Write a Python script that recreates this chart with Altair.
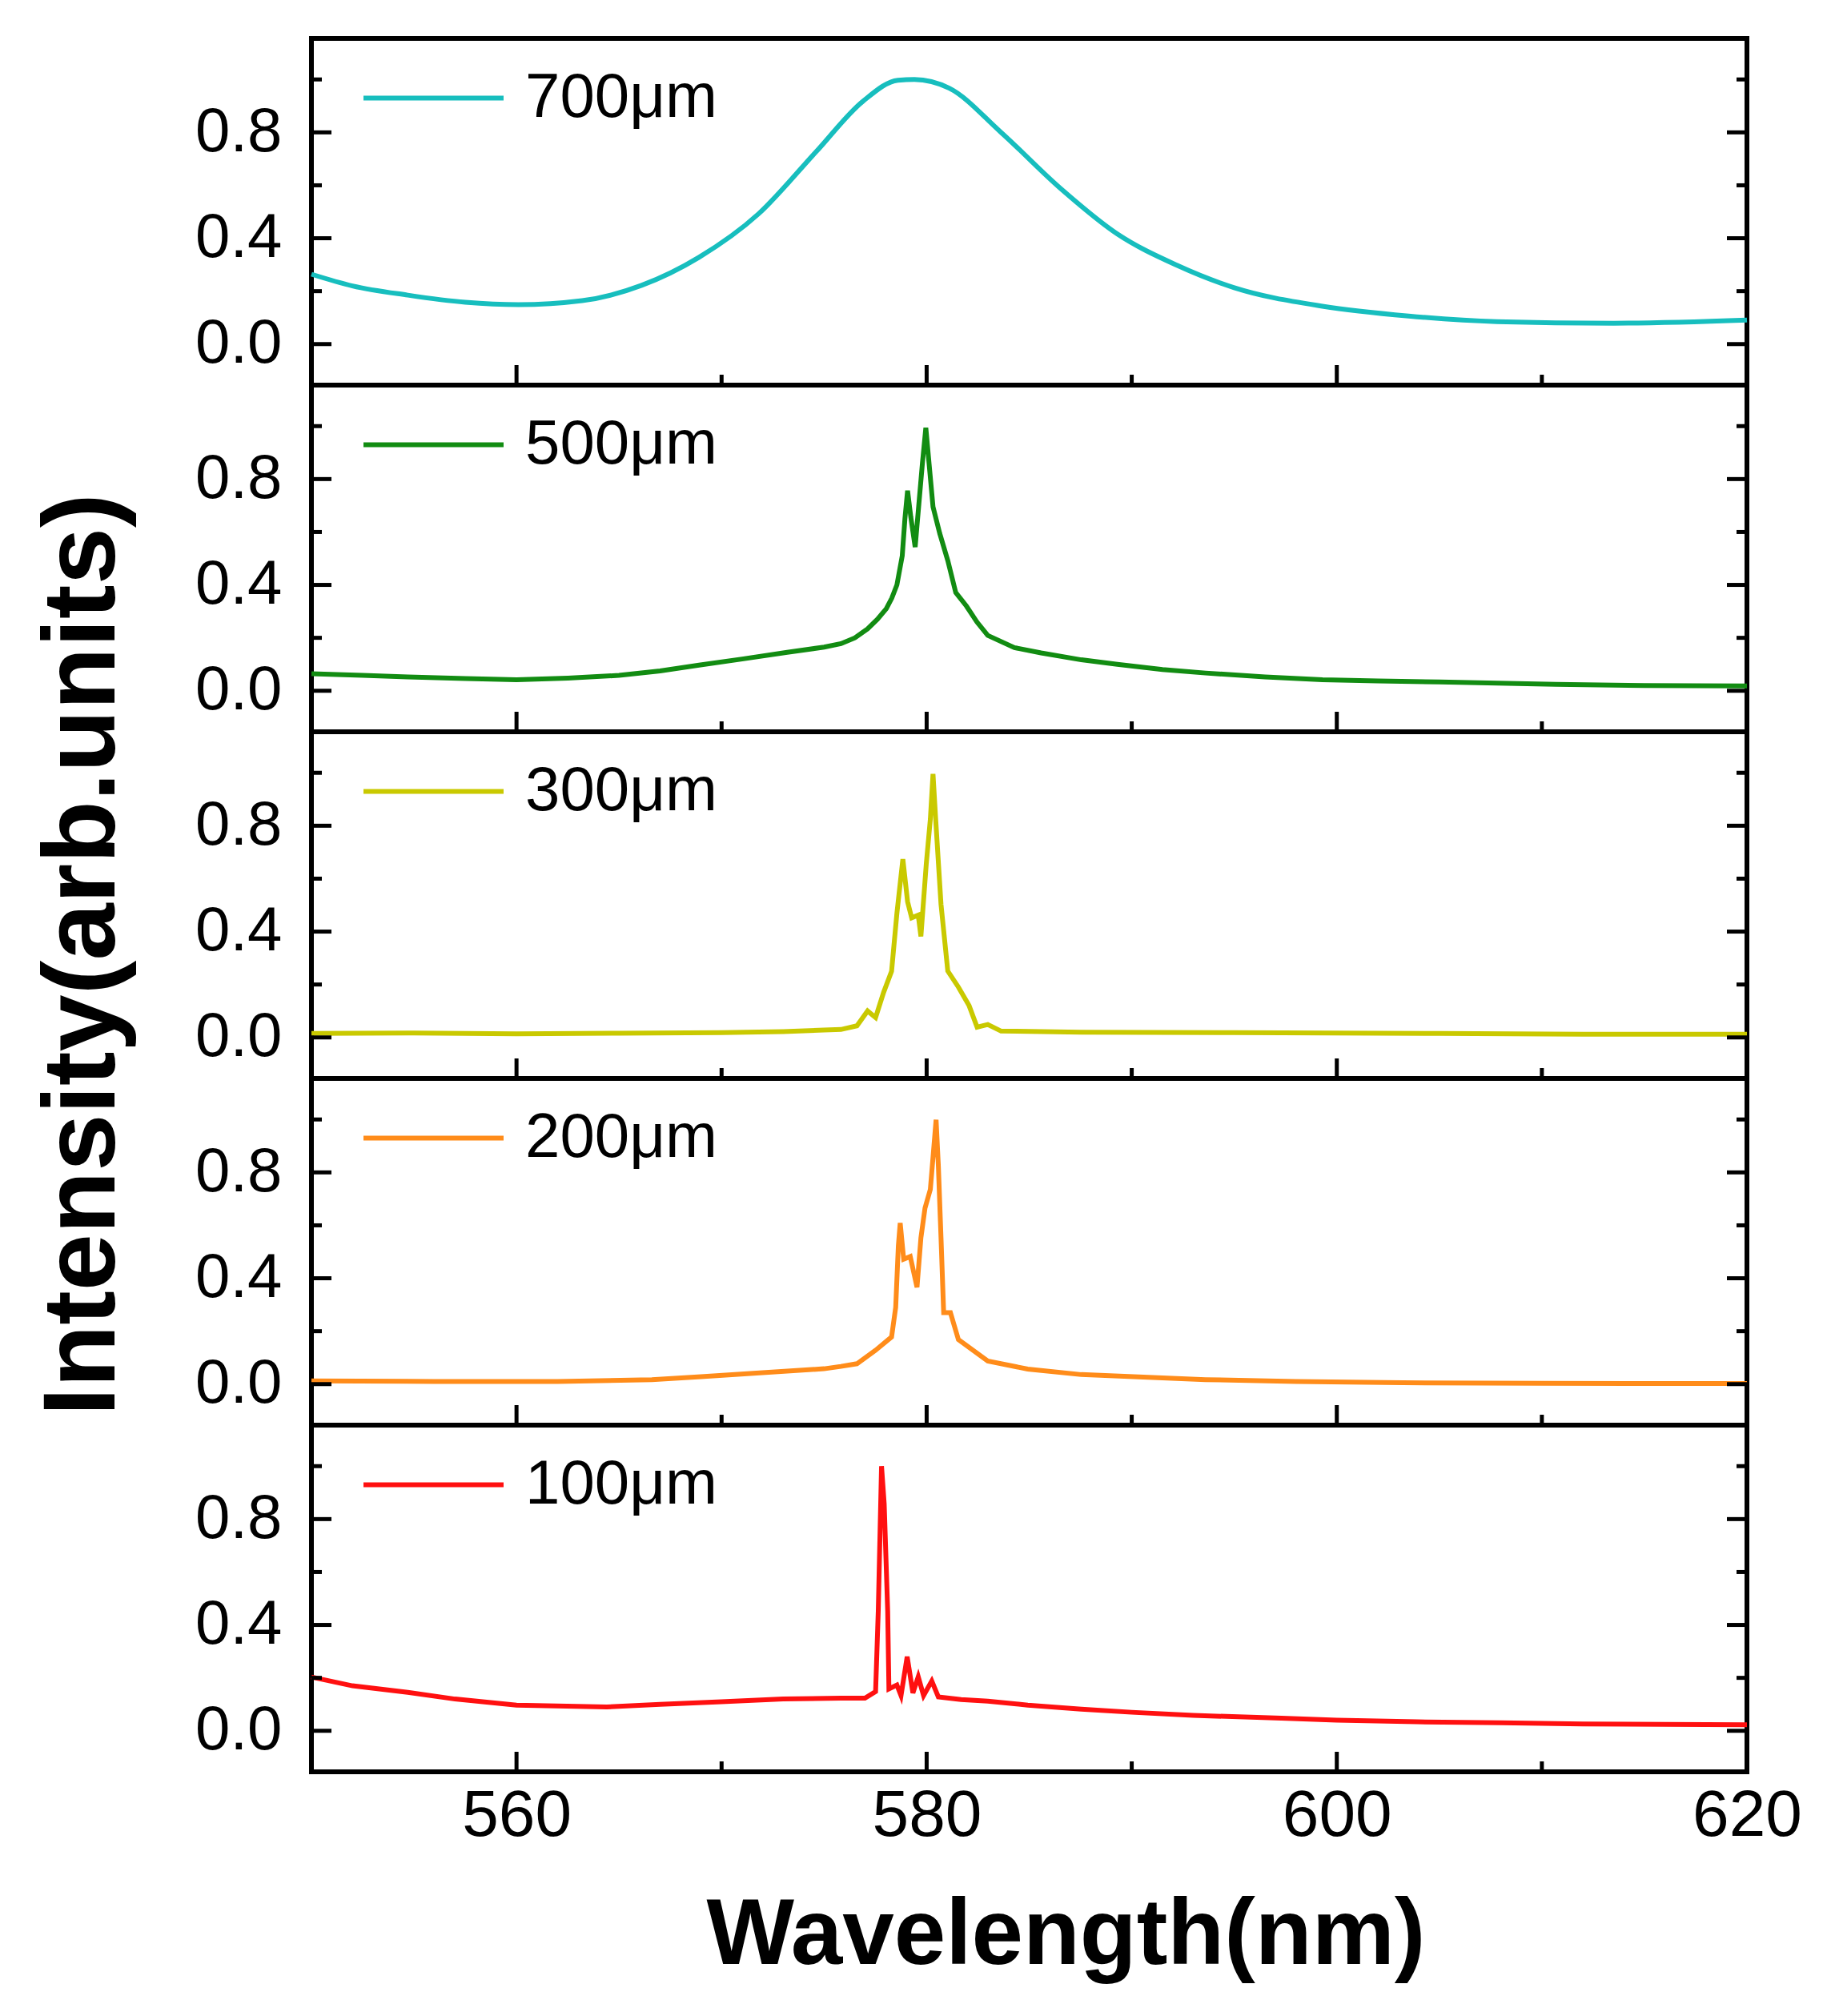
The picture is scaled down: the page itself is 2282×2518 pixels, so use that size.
import altair as alt
import pandas as pd

# ---------------- data ----------------
x_min, x_max = 550, 620
y_min, y_max = -0.155, 1.155
x_label_values = [560, 580, 600, 620]
x_major = [560, 580, 600]
x_minor = [570, 590, 610]
y_major = [0.0, 0.4, 0.8]
y_minor = [0.2, 0.6, 1.0]

labels = ["700\u03bcm", "500\u03bcm", "300\u03bcm", "200\u03bcm", "100\u03bcm"]
colors = ["#17BEBE", "#128C12", "#C9C900", "#FF8C1A", "#FF1010"]

wl_700 = [550, 552, 554.7, 557.5, 560.1, 563.2, 566.1, 568.9, 571.8, 574.6, 576.9,
          578.6, 579.4, 581.1, 583.6, 586.5, 589.3, 592.2, 595.0, 599.3, 603.5,
          607.8, 613.5, 620]
int_700 = [0.264, 0.22, 0.185, 0.158, 0.149, 0.164, 0.222, 0.328, 0.492, 0.726, 0.918,
           0.997, 1.0, 0.967, 0.802, 0.59, 0.416, 0.298, 0.213, 0.143, 0.106,
           0.085, 0.079, 0.091]

wl_500 = [550, 552.5, 554.7, 557.5, 560, 562.5, 565, 567, 568.9, 571, 573.2, 575,
          575.82, 576.5, 577.12, 577.6, 578.03, 578.3, 578.55, 578.81, 578.94, 579.07,
          579.23, 579.44, 579.62, 579.79, 579.96, 580.12, 580.31, 580.64, 581.03,
          581.42, 581.94, 582.45, 582.98, 584.28, 585.58, 587.54, 589.3, 591.5,
          593.6, 596.5, 599.3, 602, 605, 610.7, 615, 620]
int_500 = [0.064, 0.058, 0.052, 0.046, 0.042, 0.048, 0.058, 0.075, 0.097, 0.12, 0.145, 0.165,
           0.178, 0.2, 0.234, 0.27, 0.31, 0.35, 0.40, 0.51, 0.65, 0.756,
           0.655, 0.543, 0.705, 0.857, 0.994, 0.857, 0.695, 0.594, 0.492,
           0.371, 0.32, 0.26, 0.209, 0.163, 0.143, 0.117, 0.1, 0.08,
           0.067, 0.052, 0.042, 0.037, 0.033, 0.024, 0.02, 0.018]

wl_300 = [550, 555, 560, 565, 570, 573, 575, 575.82, 576.6, 577.12, 577.51, 577.9,
          578.29, 578.55, 578.84, 579.07, 579.27, 579.59, 579.72, 579.98, 580.18,
          580.31, 580.44, 580.7, 581.03, 581.55, 582.07, 582.46, 582.98, 583.63,
          587.54, 595, 605, 612, 620]
int_300 = [0.015, 0.017, 0.014, 0.016, 0.018, 0.022, 0.028, 0.03, 0.044, 0.10, 0.075, 0.17,
           0.25, 0.47, 0.674, 0.513, 0.452, 0.462, 0.382, 0.654, 0.825,
           0.996, 0.825, 0.503, 0.251, 0.19, 0.12, 0.039, 0.049, 0.024,
           0.02, 0.018, 0.015, 0.012, 0.012]

wl_200 = [550, 556, 562, 566.6, 569, 571.7, 575, 575.82, 576.6, 577.51, 578.29, 578.49,
          578.62, 578.71, 578.88, 579.2, 579.53, 579.72, 579.92, 580.18, 580.31,
          580.46, 580.57, 580.7, 580.83, 581.16, 581.55, 582.98, 584.93, 587.54,
          593.6, 598, 603.2, 610, 620]
int_200 = [0.012, 0.01, 0.01, 0.017, 0.028, 0.042, 0.058, 0.067, 0.077, 0.128, 0.178, 0.29,
           0.523, 0.609, 0.472, 0.482, 0.366, 0.553, 0.665, 0.736, 0.857,
           0.999, 0.827, 0.553, 0.27, 0.27, 0.168, 0.087, 0.057, 0.036,
           0.017, 0.01, 0.005, 0.003, 0.002]

wl_100 = [550, 552, 554.7, 557, 560, 564.4, 567, 570, 573, 575.82, 576.99, 577.51,
          577.64, 577.8, 577.93, 578.1, 578.16, 578.55, 578.75, 579.05, 579.33,
          579.59, 579.85, 580.25, 580.57, 581.68, 582.98, 584.93, 587.54, 590,
          593, 597.3, 600, 603.9, 608, 612, 616, 620]
int_100 = [0.203, 0.17, 0.145, 0.12, 0.097, 0.09, 0.1, 0.11, 0.12, 0.123, 0.123, 0.148,
           0.452, 1.0, 0.857, 0.452, 0.158, 0.173, 0.133, 0.28, 0.143,
           0.204, 0.133, 0.188, 0.128, 0.118, 0.112, 0.097, 0.082, 0.07,
           0.058, 0.048, 0.04, 0.034, 0.03, 0.026, 0.024, 0.023]

series_wl = [wl_700, wl_500, wl_300, wl_200, wl_100]
series_int = [int_700, int_500, int_300, int_200, int_100]

# ---------------- styling ----------------
W, H = 1793, 433
FONT = "Liberation Sans"
MAJ, MIN = 25, 13
TICK_W = 5

xs = alt.Scale(domain=[x_min, x_max], nice=False, zero=False)
ys = alt.Scale(domain=[y_min, y_max], nice=False, zero=False)

X_TITLE = "Wavelength(nm)"
Y_TITLE = "Intensity(arb.units)"


def x_axis(show):
    if not show:
        return None
    return alt.Axis(values=x_label_values, format="d", ticks=False, domain=False,
                    grid=False, labelFontSize=82, labelPadding=14, labelFlush=False,
                    titleFontSize=116, titleX=942, titleY=239, titleAlign="center",
                    titleBaseline="alphabetic")


def y_axis(with_title):
    kw = dict(values=y_major, format=".1f", ticks=False, domain=False, grid=False,
              labelFontSize=78, labelPadding=37)
    if with_title:
        kw.update(titleFontSize=128, titleX=-247, titleY=278, titleAlign="center",
                  titleBaseline="alphabetic")
    return alt.Axis(**kw)


def panel(i, n):
    show_x = i == n - 1
    with_title = i == 2
    xa = x_axis(show_x)
    ya = y_axis(with_title)
    xt = X_TITLE if show_x else None
    yt = Y_TITLE if with_title else None

    df = pd.DataFrame({"wl": series_wl[i], "I": series_int[i], "s": labels[i]})
    interp = "monotone" if i == 0 else "linear"
    line = alt.Chart(df).mark_line(strokeWidth=6, interpolate=interp).encode(
        x=alt.X("wl:Q", scale=xs, axis=xa, title=xt),
        y=alt.Y("I:Q", scale=ys, axis=ya, title=yt),
        color=alt.Color("s:N", scale=alt.Scale(domain=[labels[i]], range=[colors[i]]),
                        legend=alt.Legend(title=None, orient="none", legendX=62, legendY=-16,
                                          symbolType="stroke", symbolSize=30625,
                                          symbolStrokeWidth=6, labelFontSize=78,
                                          labelOffset=24, labelLimit=600, padding=0)),
    )

    rule = dict(color="black", strokeWidth=TICK_W)
    layers = [line]
    for vals, ln in ((y_major, MAJ), (y_minor, MIN)):
        d = pd.DataFrame({"I": vals})
        layers.append(alt.Chart(d).mark_rule(**rule).encode(
            y=alt.Y("I:Q", scale=ys, axis=ya, title=yt), x=alt.value(0), x2=alt.value(ln)))
        layers.append(alt.Chart(d).mark_rule(**rule).encode(
            y=alt.Y("I:Q", scale=ys, axis=ya, title=yt), x=alt.value(W), x2=alt.value(W - ln)))
    for vals, ln in ((x_major, MAJ), (x_minor, MIN)):
        d = pd.DataFrame({"wl": vals})
        layers.append(alt.Chart(d).mark_rule(**rule).encode(
            x=alt.X("wl:Q", scale=xs, axis=xa, title=xt), y=alt.value(H), y2=alt.value(H - ln)))
    return alt.layer(*layers).properties(width=W, height=H)


n = len(labels)
panels = [panel(i, n) for i in range(n)]

chart = alt.vconcat(*panels, spacing=0, bounds="flush").resolve_scale(
    color="independent").resolve_legend(color="independent").configure_view(
    stroke="black", strokeWidth=6).configure_axis(
    labelFont=FONT, labelColor="black", titleFont=FONT, titleColor="black",
    titleFontWeight="bold").configure_legend(
    labelFont=FONT, labelColor="black").properties(
    padding={"left": 28, "top": 21, "right": 5, "bottom": 5})

chart.save("out.html", embed_options={"renderer": "svg", "actions": False})
